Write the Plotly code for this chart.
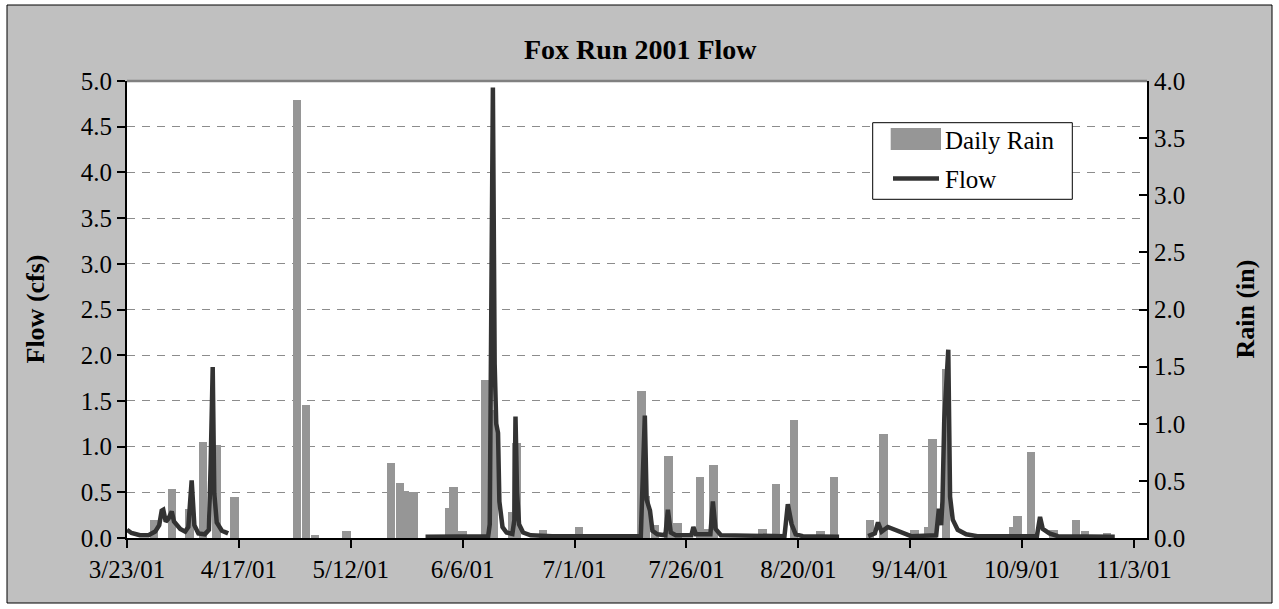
import plotly.graph_objects as go
import pandas as pd

# ---------------- data ----------------
rain_dates = ['2001-03-29', '2001-04-02', '2001-04-06', '2001-04-09', '2001-04-12', '2001-04-16',
              '2001-04-30', '2001-05-02', '2001-05-04', '2001-05-11', '2001-05-21', '2001-05-23',
              '2001-05-24', '2001-05-26', '2001-06-03', '2001-06-04', '2001-06-06', '2001-06-11',
              '2001-06-13', '2001-06-17', '2001-06-18', '2001-06-24', '2001-07-02', '2001-07-16',
              '2001-07-17', '2001-07-19', '2001-07-22', '2001-07-24', '2001-07-29', '2001-07-30',
              '2001-08-01', '2001-08-12', '2001-08-15', '2001-08-19', '2001-08-25', '2001-08-28',
              '2001-09-05', '2001-09-08', '2001-09-15', '2001-09-18', '2001-09-19', '2001-09-22',
              '2001-10-07', '2001-10-08', '2001-10-11', '2001-10-16', '2001-10-21', '2001-10-23',
              '2001-10-28']
rain_in = [0.16, 0.43, 0.25, 0.84, 0.81, 0.36,
           3.83, 1.16, 0.03, 0.06, 0.66, 0.48,
           0.41, 0.40, 0.26, 0.45, 0.06, 1.38,
           1.12, 0.23, 0.83, 0.07, 0.10, 1.29,
           0.37, 0.11, 0.72, 0.13, 0.53, 0.08,
           0.64, 0.08, 0.47, 1.03, 0.06, 0.53,
           0.16, 0.91, 0.07, 0.10, 0.87, 1.48,
           0.10, 0.19, 0.75, 0.07, 0.16, 0.06,
           0.04]

# flow readings: days since 3/23/01 and flow (cfs); None marks a gap in the record
flow_day = [0.0, 1.0, 2.9, 4.8, 6.3, 7.2, 7.75, 8.1, 8.65, 9.25, 10.0, 10.5, 11.9, 13.0, 13.7,
            14.25, 14.45, 15.05, 15.95, 17.4, 18.3, 18.7, 19.15, 19.5, 20.05, 21.2, 22.6,
            44.0,
            66.7, 80.7, 81.05, 81.75, 82.15, 82.5, 82.9, 83.2, 83.9, 84.8, 86.1, 86.55, 86.8,
            87.15, 87.6, 88.5, 90.2, 95.0, 114.8, 115.2, 115.7, 116.1, 116.85, 117.4, 118.5,
            120.3, 120.85, 121.5, 122.6, 126.1, 126.55, 127.1, 130.35, 130.9, 131.5, 132.7,
            146.9, 147.65, 148.5, 149.4, 151.0, 159.1,
            162.0,
            165.6, 167.1, 167.8, 168.6, 170.0, 171.4, 173.7, 175.2, 180.8, 181.4, 181.9, 182.2,
            182.6, 183.5, 183.9, 184.5, 185.6, 187.5, 190.0, 203.3, 204.0, 204.6, 206.1, 208.0,
            220.7]
flow_cfs = [0.09, 0.055, 0.03, 0.03, 0.07, 0.14, 0.30, 0.31, 0.18, 0.21, 0.29, 0.18, 0.10, 0.07, 0.12,
            0.60, 0.63, 0.14, 0.05, 0.04, 0.09, 0.82, 1.87, 0.49, 0.17, 0.08, 0.05,
            None,
            0.015, 0.02, 0.15, 4.93, 1.90, 1.25, 1.15, 0.40, 0.12, 0.06, 0.045, 0.20, 1.33,
            0.50, 0.15, 0.06, 0.03, 0.02, 0.02, 0.80, 1.34, 0.42, 0.30, 0.08, 0.04,
            0.03, 0.31, 0.06, 0.03, 0.03, 0.12, 0.04, 0.04, 0.40, 0.10, 0.03,
            0.02, 0.37, 0.15, 0.04, 0.02, 0.015,
            None,
            0.02, 0.05, 0.17, 0.07, 0.12, 0.09, 0.04, 0.02, 0.03, 0.32, 0.14, 0.40,
            1.29, 2.06, 0.45, 0.20, 0.09, 0.04, 0.02, 0.02, 0.23, 0.10, 0.05, 0.02,
            0.015]

tick_dates = ['2001-03-23', '2001-04-17', '2001-05-12', '2001-06-06', '2001-07-01',
              '2001-07-26', '2001-08-20', '2001-09-14', '2001-10-09', '2001-11-03']
tick_labels = ['3/23/01', '4/17/01', '5/12/01', '6/6/01', '7/1/01',
               '7/26/01', '8/20/01', '9/14/01', '10/9/01', '11/3/01']

# ---------------- figure ----------------
W, H = 1279, 609
ML, MR, MT, MB = 127, 132, 81, 71
PW, PH = W - ML - MR, H - MT - MB

def px(x):
    return (x - ML) / PW

def py(y):
    return (H - MB - y) / PH

FONT = 'Liberation Serif, Times New Roman, serif'
start = pd.Timestamp('2001-03-23')
flow_time = [start + pd.Timedelta(days=d) for d in flow_day]
x_end = start + pd.Timedelta(days=227.9)

fig = go.Figure()
fig.add_trace(go.Bar(
    x=pd.to_datetime(rain_dates), y=rain_in, name='Daily Rain',
    marker=dict(color='#969696', line=dict(width=0)),
    width=1.9 * 86400000, yaxis='y', showlegend=False))
fig.add_trace(go.Scatter(
    x=flow_time, y=flow_cfs, name='Flow', mode='lines',
    line=dict(color='#333333', width=4.5), connectgaps=False,
    yaxis='y2', showlegend=False))

fig.update_layout(
    width=W, height=H,
    margin=dict(l=ML, r=MR, t=MT, b=MB, pad=0),
    paper_bgcolor='white', plot_bgcolor='white',
    font=dict(family=FONT, size=25, color='black'),
    bargap=0,
    xaxis=dict(type='date', range=[start, x_end], tickvals=pd.to_datetime(tick_dates),
               ticktext=tick_labels, ticks='outside', ticklen=8, tickwidth=1.5, tickcolor='black',
               showline=True, linecolor='black', linewidth=2, showgrid=False, zeroline=False,
               tickfont=dict(family=FONT, size=25, color='black')),
    yaxis=dict(side='right', range=[0, 4], dtick=0.5, tickformat='.1f', ticks='inside',
               ticklen=8, tickwidth=1.5, tickcolor='black', showline=True, linecolor='black',
               linewidth=2, showgrid=False, zeroline=False,
               tickfont=dict(family=FONT, size=25, color='black')),
    yaxis2=dict(side='left', overlaying='y', range=[0, 5], dtick=0.5, tickformat='.1f',
                ticks='outside', ticklen=8, tickwidth=1.5, tickcolor='black', showline=True,
                linecolor='black', linewidth=2, showgrid=True, gridcolor='#8c8c8c', gridwidth=1.2,
                griddash='8px,7px', zeroline=False,
                tickfont=dict(family=FONT, size=25, color='black')),
)

shapes = [
    # outer chart area
    dict(type='rect', xref='paper', yref='paper', x0=px(7), x1=px(1272), y0=py(603), y1=py(5),
         fillcolor='#C0C0C0', line=dict(color='black', width=1), layer='below'),
    # plot area
    dict(type='rect', xref='paper', yref='paper', x0=0, x1=1, y0=0, y1=1,
         fillcolor='white', line=dict(width=0), layer='below'),
    dict(type='line', xref='paper', yref='paper', x0=0, x1=1, y0=1, y1=1,
         line=dict(color='#808080', width=2.5), layer='above'),
    # legend
    dict(type='rect', xref='paper', yref='paper', x0=px(872.7), x1=px(1072.3), y0=py(199.3), y1=py(122.7),
         fillcolor='white', line=dict(color='black', width=1), layer='above'),
    dict(type='rect', xref='paper', yref='paper', x0=px(890.7), x1=px(941), y0=py(150), y1=py(128),
         fillcolor='#969696', line=dict(width=0), layer='above'),
    dict(type='line', xref='paper', yref='paper', x0=px(893), x1=px(939), y0=py(178.5), y1=py(178.5),
         line=dict(color='#333333', width=4.5), layer='above'),
]
fig.update_layout(shapes=shapes)

annotations = [
    dict(text='<b>Fox Run 2001 Flow</b>', xref='paper', yref='paper', x=px(640), y=py(50),
         showarrow=False, xanchor='center', yanchor='middle', font=dict(family=FONT, size=28)),
    dict(text='<b>Flow (cfs)</b>', xref='paper', yref='paper', x=px(35), y=0.5, textangle=-90,
         showarrow=False, xanchor='center', yanchor='middle', font=dict(family=FONT, size=26)),
    dict(text='<b>Rain (in)</b>', xref='paper', yref='paper', x=px(1245), y=0.5, textangle=-90,
         showarrow=False, xanchor='center', yanchor='middle', font=dict(family=FONT, size=26)),
    dict(text='Daily Rain', xref='paper', yref='paper', x=px(943), y=py(140),
         showarrow=False, xanchor='left', yanchor='middle', font=dict(family=FONT, size=25)),
    dict(text='Flow', xref='paper', yref='paper', x=px(943), y=py(179),
         showarrow=False, xanchor='left', yanchor='middle', font=dict(family=FONT, size=25)),
]
fig.update_layout(annotations=annotations)

fig.write_html('out.html')
